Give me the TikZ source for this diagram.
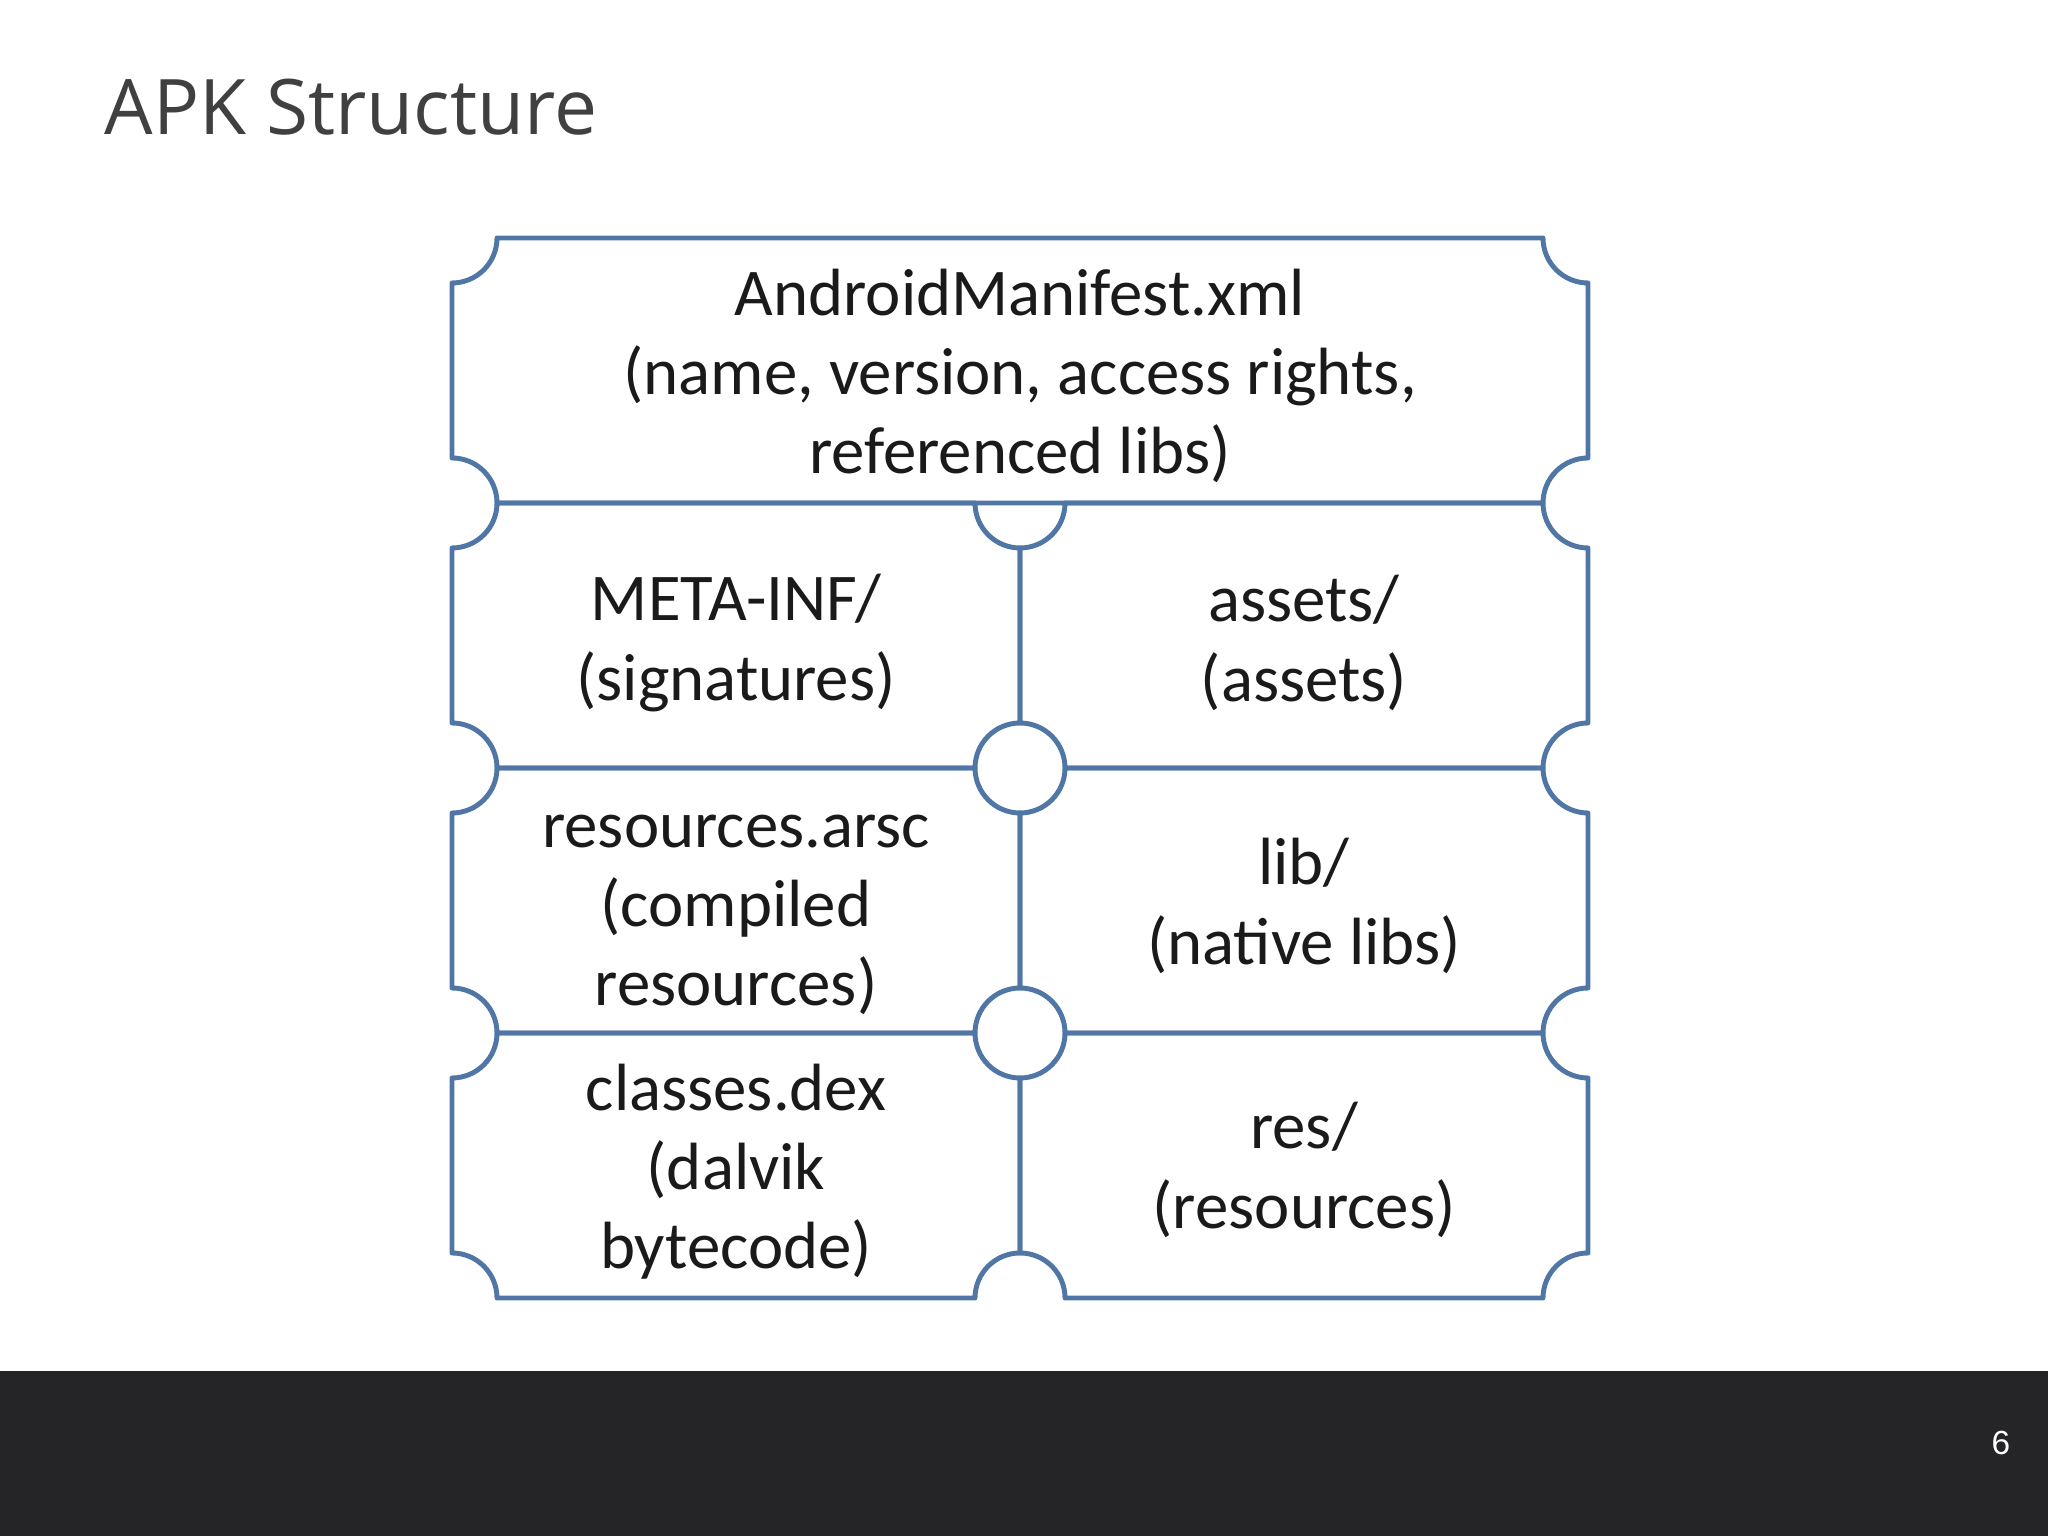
\documentclass[tikz,border=0pt]{standalone}
\usepackage{fontspec}
\setmainfont{Carlito}
\newfontfamily\titlefont{Open Sans}
\newfontfamily\pagefont{Liberation Sans}
\usepackage{tikz}
\usetikzlibrary{positioning}
\definecolor{cellblue}{RGB}{80,118,166}
\definecolor{titlegray}{RGB}{64,64,64}
\definecolor{footerdark}{RGB}{37,37,39}
\definecolor{inkblack}{RGB}{26,26,26}
\tikzset{
  cellline/.style={draw=cellblue,line width=1.4pt,line join=round},
  celltext/.style={align=center,inner sep=0pt,text=inkblack,
    font=\fontsize{19}{22.5}\selectfont},
}
\begin{document}
\begin{tikzpicture}[x=0.01cm,y=0.01cm]
    \useasboundingbox (0,0) rectangle (2048,1536);
    \fill[white] (0,0) rectangle (2048,1536);
    % footer bar
    \fill[footerdark] (0,0) rectangle (2048,165);
    \node[font=\pagefont\fontsize{9.5}{11}\selectfont,text=white] (pagenum) at (2001,93) {6};
    % title
    \node[anchor=base west,inner sep=0pt,font=\titlefont\fontsize{21.8}{26}\selectfont,
          text=titlegray] (title) at (104,1401) {APK Structure};
    % the cells, notched at every corner
    \foreach \xa/\ya/\xb/\yb in {452/1033/1588/1298, 452/768/1020/1033, 1020/768/1588/1033,
                                 452/503/1020/768, 1020/503/1588/768,
                                 452/238/1020/503, 1020/238/1588/503}{
      \draw[cellline] (\xa+45,\yb) -- (\xb-45,\yb)
        arc[start angle=180,end angle=270,radius=45] -- (\xb,\ya+45)
        arc[start angle=90,end angle=180,radius=45] -- (\xa+45,\ya)
        arc[start angle=0,end angle=90,radius=45] -- (\xa,\yb-45)
        arc[start angle=270,end angle=360,radius=45] -- cycle;}
    % the texts
    \node[celltext] (manifest) at (1020,1160) {AndroidManifest.xml\\(name, version, access rights,\\referenced libs)};
    \node[celltext] (metainf) at (736,893) {META-INF/\\(signatures)};
    \node[celltext] (assets) at (1304,893) {assets/\\(assets)};
    \node[celltext] (arsc) at (736,621) {resources.arsc\\(compiled\\resources)};
    \node[celltext] (lib) at (1304,630) {lib/\\(native libs)};
    \node[celltext] (dex) at (736,364) {classes.dex\\(dalvik\\bytecode)};
    \node[celltext] (res) at (1304,366) {res/\\(resources)};
  \end{tikzpicture}
\end{document}
